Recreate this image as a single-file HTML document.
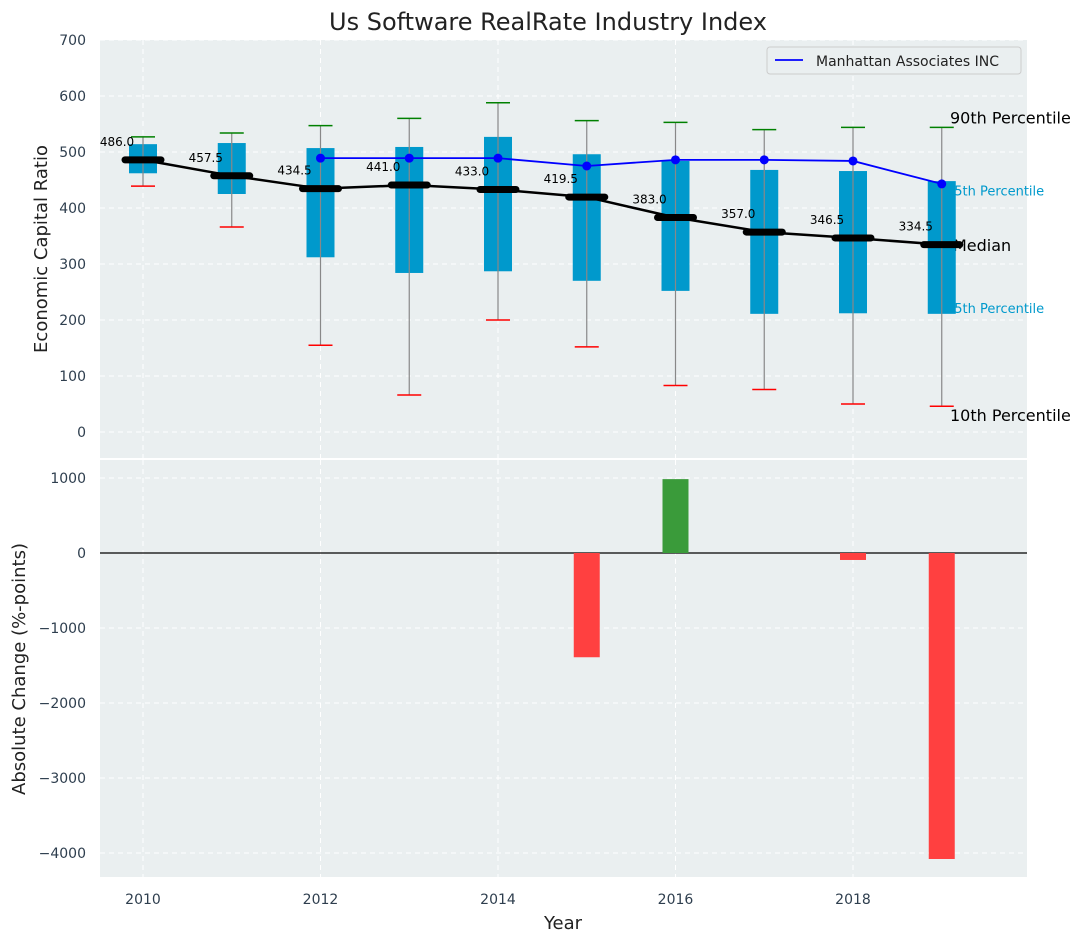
<!DOCTYPE html>
<html><head><meta charset="utf-8"><style>
body{margin:0;background:#fff;}
svg{display:block;font-family:"DejaVu Sans","Liberation Sans",sans-serif;}
</style></head><body>
<svg id="c" width="1085" height="942" xmlns="http://www.w3.org/2000/svg"></svg>
<script>
const years=[2010,2011,2012,2013,2014,2015,2016,2017,2018,2019];
const q1=[462,425,312,284,287,270,252,211,212,211];
const q3=[514,516,507,509,527,496,484,468,466,448];
const medians=[486.0,457.5,434.5,441.0,433.0,419.5,383.0,357.0,346.5,334.5];
const p10=[439,366,155,66,200,152,83,76,50,46];
const p90=[527,534,547,560,588,556,553,540,544,544];
const companyYears=[2012,2013,2014,2015,2016,2017,2018,2019];
const companyVals=[489,489,489,475,486,486,484,443];
const changeYears=[2015,2016,2018,2019];
const changeVals=[-1390,985,-93,-4080];
const topTicks=[0,100,200,300,400,500,600,700];
const botTicks=[1000,0,-1000,-2000,-3000,-4000];
const xTicks=[2010,2012,2014,2016,2018];
const pctLabels=['90th Percentile','75th Percentile','Median','25th Percentile','10th Percentile'];
const pctLabelVals=[562,433,334,223,30];

const NS="http://www.w3.org/2000/svg";
const svg=document.getElementById('c');
function el(t,a,parent){const e=document.createElementNS(NS,t);for(const k in a)e.setAttribute(k,a[k]);(parent||svg).appendChild(e);return e;}
const X=v=>143+(v-2010)*88.75;
const Y1=v=>432-v*0.56;
const Y2=v=>553-v*0.075;
const L=100,R=1027;

let e=el('rect',{x:L,y:40,width:R-L,height:418,fill:'#eaeff0'});

e=el('rect',{x:L,y:460,width:R-L,height:417,fill:'#eaeff0'});


xTicks.forEach(t=>{
 el('line',{x1:X(t),x2:X(t),y1:40,y2:458,stroke:'#fff','stroke-dasharray':'5,4','stroke-width':1});
 el('line',{x1:X(t),x2:X(t),y1:460,y2:877,stroke:'#fff','stroke-dasharray':'5,4','stroke-width':1});
 e=el('text',{x:X(t),y:904,'text-anchor':'middle','font-size':14,fill:'#2e3e4e'});e.textContent=t;
 
});
topTicks.forEach(t=>{
 el('line',{x1:L,x2:R,y1:Y1(t),y2:Y1(t),stroke:'#fff','stroke-dasharray':'5,4'});
 e=el('text',{x:86,y:Y1(t)+5,'text-anchor':'end','font-size':14,fill:'#2e3e4e'});e.textContent=t;
 
});
botTicks.forEach(t=>{
 el('line',{x1:L,x2:R,y1:Y2(t),y2:Y2(t),stroke:'#fff','stroke-dasharray':'5,4'});
 e=el('text',{x:86,y:Y2(t)+5,'text-anchor':'end','font-size':14,fill:'#2e3e4e'});e.textContent=(t<0?'\u2212'+(-t):t);
 
});

pctLabels.forEach((txt,i)=>{
 const small=(i==1||i==3);
 e=el('text',{x:small?946:(i==2?953:950),y:Y1(pctLabelVals[i])+6,'font-size':small?13:16,fill:small?'#0099cc':'#000'});e.textContent=txt;
 
});

years.forEach((y,i)=>{
 const x=X(y);
 e=el('rect',{x:x-14,y:Y1(q3[i]),width:28,height:Y1(q1[i])-Y1(q3[i]),fill:'#0099cc'});
 
 e=el('line',{x1:x,x2:x,y1:Y1(p90[i]),y2:Y1(p10[i]),stroke:'#888','stroke-width':1.2});
 
 e=el('line',{x1:x-12,x2:x+12,y1:Y1(p90[i]),y2:Y1(p90[i]),stroke:'green','stroke-width':1.5});
 
 e=el('line',{x1:x-12,x2:x+12,y1:Y1(p10[i]),y2:Y1(p10[i]),stroke:'red','stroke-width':1.5});
 
});

e=el('polyline',{points:years.map((y,i)=>X(y)+','+Y1(medians[i])).join(' '),fill:'none',stroke:'#000','stroke-width':2.5});

years.forEach((y,i)=>{
 e=el('line',{x1:X(y)-18,x2:X(y)+18,y1:Y1(medians[i]),y2:Y1(medians[i]),stroke:'#000','stroke-width':7,'stroke-linecap':'round'});
 
 e=el('text',{x:X(y)-26,y:Y1(medians[i])-14,'text-anchor':'middle','font-size':12,fill:'#000'});e.textContent=medians[i].toFixed(1);
 
});

e=el('polyline',{points:companyYears.map((y,i)=>X(y)+','+Y1(companyVals[i])).join(' '),fill:'none',stroke:'#0000ff','stroke-width':1.8});

companyYears.forEach((y,i)=>{
 e=el('circle',{cx:X(y),cy:Y1(companyVals[i]),r:4.5,fill:'#0000ff'});
 
});

const lg=el('g',{});
el('rect',{x:767,y:47,width:254,height:27,rx:3,fill:'#eaeff0',stroke:'#ccc'},lg);
el('line',{x1:775,x2:803,y1:60,y2:60,stroke:'#0000ff','stroke-width':1.8},lg);
e=el('text',{x:816,y:66,'font-size':14,fill:'#222'},lg);e.textContent='Manhattan Associates INC';

el('line',{x1:L,x2:R,y1:Y2(0),y2:Y2(0),stroke:'#000','stroke-width':1.2});
changeYears.forEach((y,i)=>{
 const v=changeVals[i];
 e=el('rect',{x:X(y)-13,y:Math.min(Y2(v),Y2(0)),width:26,height:Math.abs(Y2(v)-Y2(0)),fill:v>=0?'#3a9b3a':'#ff4040'});
 
});

e=el('text',{x:548,y:30,'text-anchor':'middle','font-size':24,fill:'#222'});e.textContent='Us Software RealRate Industry Index';

e=el('text',{x:47,y:249,'text-anchor':'middle','font-size':18,fill:'#222',transform:'rotate(-90 47 249)'});e.textContent='Economic Capital Ratio';

e=el('text',{x:25,y:669,'text-anchor':'middle','font-size':18,fill:'#222',transform:'rotate(-90 25 669)'});e.textContent='Absolute Change (%-points)';

e=el('text',{x:563,y:929,'text-anchor':'middle','font-size':18,fill:'#222'});e.textContent='Year';

</script>
</body></html>
